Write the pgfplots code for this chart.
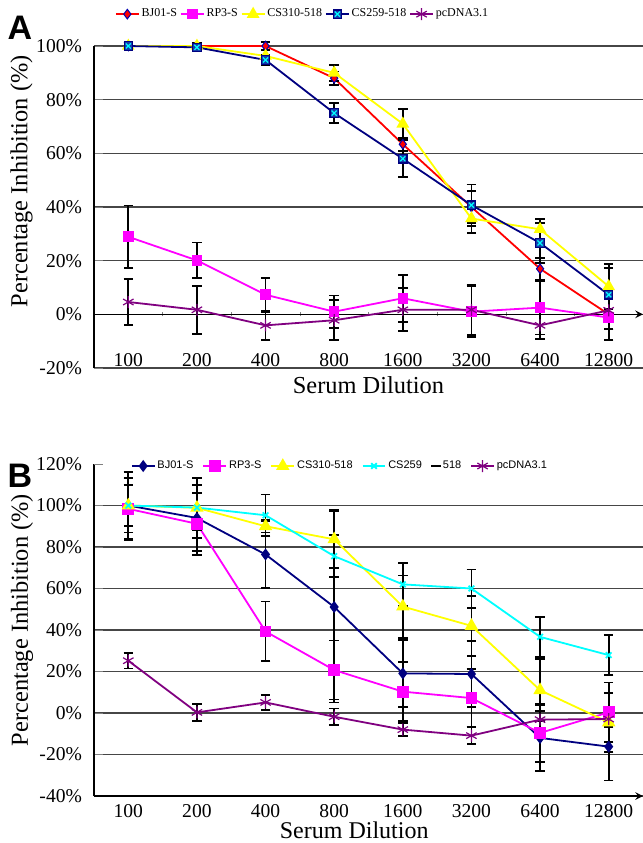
\documentclass[border=0pt]{standalone}
\usepackage{fontspec}
\setmainfont{Liberation Serif}
\setsansfont{Liberation Sans}
\usepackage{pgfplots}
\pgfplotsset{compat=1.18}

\definecolor{navy}{RGB}{0,0,128}
\definecolor{sqblue}{RGB}{20,60,170}
\definecolor{plum}{RGB}{128,0,128}
\definecolor{gridc}{RGB}{70,70,70}
\definecolor{pmag}{RGB}{255,0,255}
\definecolor{pyel}{RGB}{255,255,0}
\definecolor{pcya}{RGB}{0,255,255}
\definecolor{pred}{RGB}{255,0,0}

% navy square with a cyan cross, as in panel A
\pgfdeclareplotmark{sqx}{%
  \pgfpathrectangle{\pgfpoint{-\pgfplotmarksize}{-\pgfplotmarksize}}{\pgfpoint{2\pgfplotmarksize}{2\pgfplotmarksize}}%
  \pgfusepathqfillstroke
  \begin{pgfscope}
  \pgfsetstrokecolor{pcya}%
  \pgfpathmoveto{\pgfpoint{-0.6\pgfplotmarksize}{-0.6\pgfplotmarksize}}%
  \pgfpathlineto{\pgfpoint{0.6\pgfplotmarksize}{0.6\pgfplotmarksize}}%
  \pgfpathmoveto{\pgfpoint{-0.6\pgfplotmarksize}{0.6\pgfplotmarksize}}%
  \pgfpathlineto{\pgfpoint{0.6\pgfplotmarksize}{-0.6\pgfplotmarksize}}%
  \pgfusepathqstroke
  \end{pgfscope}
}

\pgfplotsset{
  panel/.style={
    scale only axis, width=274.5pt,
    xmin=-0.5, xmax=7.5,
    xtick={0,...,7},
    xticklabels={100,200,400,800,1600,3200,6400,12800},
    major x tick style={draw=none},
    axis y line=left,
    axis line style={-, black, line width=0.7pt},
    tick align=inside,
    hide obscured x ticks=false, hide obscured y ticks=false,
    ymajorgrids, grid style={gridc, line width=0.6pt},
    tick label style={font=\fontsize{9.8}{11}\selectfont},
    yticklabel style={xshift=-2.5pt},
    clip=false,
    legend image code/.code={\draw[mark repeat=2,mark phase=2,##1] plot coordinates {(0cm,0cm) (0.2cm,0cm) (0.4cm,0cm)};},
    error bars/y dir=both, error bars/y explicit,
    error bars/error bar style={black, line width=0.9pt},
    error bars/error mark options={black, rotate=90, mark size=2.4pt, line width=0.9pt},
    every axis plot/.append style={line width=0.9pt},
  },
}

\begin{document}
\begin{tikzpicture}
\path[use as bounding box] (0,0) rectangle (321.5pt,-421.5pt);

\node[font=\sffamily\bfseries\fontsize{17}{17}\selectfont] at (10pt,-14pt) {A};
\node[font=\sffamily\bfseries\fontsize{17}{17}\selectfont] at (10pt,-238pt) {B};

% ---------------- panel A ----------------
\begin{axis}[panel,
  at={(47pt,-184pt)}, anchor=south west, height=161pt,
  ymin=-20, ymax=100,
  ytick={-20,0,20,40,60,80,100},
  yticklabels={-20\%,0\%,20\%,40\%,60\%,80\%,100\%},
  axis x line=middle,
  xticklabel style={anchor=base, yshift=-24pt},
  minor xtick={-0.5,0.5,...,7.5}, minor tick length=2pt,
  xlabel={Serum Dilution},
  xlabel style={at={(axis description cs:0.5,-0.053)}, anchor=center, font=\fontsize{12.2}{13}\selectfont},
  ylabel={Percentage Inhibition (\%)},
  ylabel style={at={(axis description cs:-0.132,0.58)}, anchor=center, font=\fontsize{12.2}{13}\selectfont},
  legend columns=5,
  legend style={at={(axis description cs:0.38,1.099)}, anchor=center,
    draw=none, fill=none, font=\fontsize{6}{7}\selectfont,
    nodes={inner xsep=1pt, inner ysep=0.5pt},
    /tikz/every even column/.append style={column sep=0.5pt}},
]
\addplot[pred, mark=diamond*, mark size=2.4pt, mark options={fill=pred, draw=blue!70!black, line width=0.5pt}]
  coordinates {(0,100) +- (0,1) (1,100) +- (0,1) (2,100) +- (0,1.5) (3,88) +- (0,2.5)
               (4,63.4) +- (0,2.5) (5,40) +- (0,6) (6,17) +- (0,4) (7,0) +- (0,5.6)};
\addlegendentry{BJ01-S}
\addplot[pmag, mark=square*, mark size=2.2pt, mark options={fill=pmag}]
  coordinates {(0,28.9) +- (0,11.7) (1,20.1) +- (0,6.7) (2,7.3) +- (0,6.3) (3,1) +- (0,6)
               (4,6) +- (0,8.8) (5,1) +- (0,9.5) (6,2.5) +- (0,10) (7,-1.2) +- (0,8.5)};
\addlegendentry{RP3-S}
\addplot[pyel, mark=triangle*, mark size=2.8pt, mark options={fill=pyel}]
  coordinates {(0,100) +- (0,1) (1,100) +- (0,1) (2,96.3) +- (0,2) (3,90) +- (0,3)
               (4,71) +- (0,5.6) (5,35.7) +- (0,5.4) (6,31.7) +- (0,3.7) (7,10.4) +- (0,8.5)};
\addlegendentry{CS310-518}
\addplot[navy, mark=sqx, mark size=2.1pt, mark options={fill=sqblue, draw=navy, line width=0.6pt}]
  coordinates {(0,100) +- (0,1) (1,99.5) +- (0,1) (2,94.8) +- (0,2) (3,75) +- (0,3.8)
               (4,58) +- (0,6.9) (5,40.7) +- (0,7.7) (6,26.6) +- (0,7.4) (7,7.3) +- (0,10)};
\addlegendentry{CS259-518}
\addplot[plum, mark=asterisk, mark size=3pt, mark options={line width=0.6pt}]
  coordinates {(0,4.6) +- (0,8.7) (1,1.7) +- (0,9) (2,-4.1) +- (0,5.5) (3,-2.2) +- (0,7.5)
               (4,1.7) +- (0,8) (5,1.7) +- (0,9.3) (6,-4.1) +- (0,5) (7,1.5) +- (0,7)};
\addlegendentry{pcDNA3.1}
\end{axis}

% ---------------- panel B ----------------
\begin{axis}[panel,
  at={(47pt,-398pt)}, anchor=south west, height=166pt,
  ymin=-40, ymax=120,
  ytick={-40,-20,0,20,40,60,80,100},
  yticklabels={-40\%,-20\%,0\%,20\%,40\%,60\%,80\%,100\%},
  extra y ticks={120}, extra y tick labels={120\%},
  extra y tick style={grid=none},
  axis x line=bottom,
  xticklabel style={yshift=1.5pt},
  xlabel={Serum Dilution},
  xlabel style={at={(axis description cs:0.474,-0.104)}, anchor=center, font=\fontsize{12}{13}\selectfont},
  ylabel={Percentage Inhibition (\%)},
  ylabel style={at={(axis description cs:-0.131,0.53)}, anchor=center, font=\fontsize{12.2}{13}\selectfont},
  legend columns=6,
  legend style={at={(axis description cs:0.448,0.994)}, anchor=center,
    draw=none, fill=none, font=\sffamily\fontsize{5.5}{6.5}\selectfont,
    nodes={inner xsep=1pt, inner ysep=0.5pt},
    /tikz/every even column/.append style={column sep=3.5pt}},
]
\addplot[navy, mark=diamond*, mark size=2.3pt, mark options={fill=navy}]
  coordinates {(0,100) +- (0,16) (1,94) +- (0,16) (2,76.4) +- (0,16) (3,51.1) +- (0,46)
               (4,19.1) +- (0,16.2) (5,18.8) +- (0,16) (6,-12) +- (0,16) (7,-16.2) +- (0,16.3)};
\addlegendentry{BJ01-S}
\addplot[pmag, mark=square*, mark size=2.5pt, mark options={fill=pmag}]
  coordinates {(0,98.4) +- (0,15) (1,91.2) +- (0,15) (2,39.3) +- (0,14.4) (3,20.7) +- (0,14.2)
               (4,10.3) +- (0,14.2) (5,7.2) +- (0,14) (6,-9.6) +- (0,14.2) (7,0.3) +- (0,14.4)};
\addlegendentry{RP3-S}
\addplot[pyel, mark=triangle*, mark size=3pt, mark options={fill=pyel}]
  coordinates {(0,100) +- (0,10) (1,98.9) +- (0,14.5) (2,90) +- (0,3) (3,83.7) +- (0,14)
               (4,51.3) +- (0,15) (5,42) +- (0,14.5) (6,11) +- (0,15) (7,-4.5) +- (0,14.2)};
\addlegendentry{CS310-518}
\addplot[pcya, mark=x, mark size=2pt]
  coordinates {(0,100) +- (0,13) (1,99) +- (0,11) (2,95.3) +- (0,10) (3,75.6) +- (0,10)
               (4,62) +- (0,10.4) (5,60) +- (0,9.2) (6,36.7) +- (0,9.6) (7,27.9) +- (0,9.7)};
\addlegendentry{CS259}
\addlegendimage{black, only marks, mark=-, mark size=2.5pt, line width=1pt}
\addlegendentry{518}
\addplot[plum, mark=asterisk, mark size=3pt, mark options={line width=0.6pt}]
  coordinates {(0,25.2) +- (0,3.7) (1,0.3) +- (0,4) (2,5.1) +- (0,3.6) (3,-1.8) +- (0,4)
               (4,-8) +- (0,3) (5,-10.9) +- (0,4) (6,-3.2) +- (0,4) (7,-2.9) +- (0,4)};
\addlegendentry{pcDNA3.1}
\end{axis}
\end{tikzpicture}
\end{document}
